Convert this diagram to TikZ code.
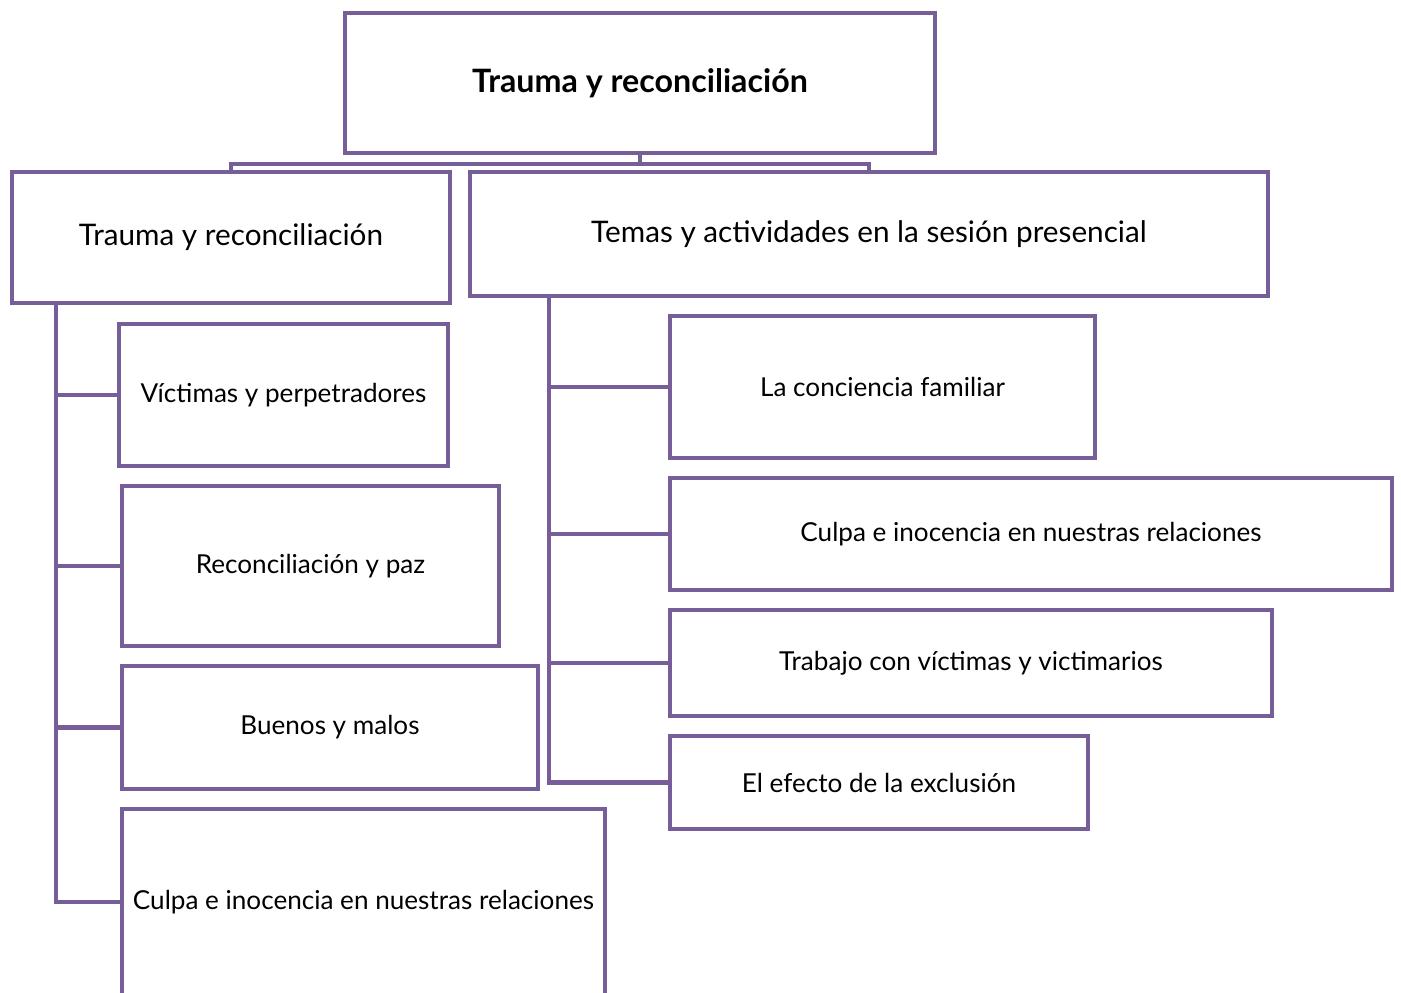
\documentclass[tikz,border=0pt]{standalone}
\usepackage{fontspec}
\setmainfont{Lato}
\usetikzlibrary{calc}
\definecolor{frame}{RGB}{118,94,152}
\tikzset{
  box/.style 2 args={draw=frame, line width=2.2pt, fill=white, inner sep=0pt,
    minimum width=#1*0.5pt, minimum height=#2*0.5pt, align=center, text=black},
  conn/.style={draw=frame, line width=2.2pt},
  big/.style={font=\fontsize{16.1}{19}\selectfont\bfseries},
  mid/.style={font=\fontsize{14.85}{18}\selectfont},
  small/.style={font=\fontsize{13.05}{16}\selectfont}
}
\begin{document}
\begin{tikzpicture}[x=0.5pt,y=-0.5pt]
\useasboundingbox (0,0) rectangle (1401,992);
\node[box={590}{140}, big] (top) at (640,83) {Trauma y reconciliación};
\node[box={438}{131}, mid] (L1) at (231,237.5) {Trauma y reconciliación};
\node[box={798}{124}, mid] (R1) at (869,234) {Temas y actividades en la sesión presencial};
% left children
\node[box={329}{142}, small] (LV) at (283.5,395) {Víctimas y perpetradores};
\node[box={377}{160}, small] (LR) at (310.5,566) {Reconciliación y paz};
\node[box={416}{123}, small] (LB) at (330,727.5) {Buenos y malos};
\node[box={483}{186}, small] (LC) at (363.5,902) {Culpa e inocencia en nuestras relaciones};
% right children
\node[box={425}{142}, small] (RC) at (882.5,387) {La conciencia familiar};
\node[box={722}{112}, small] (RCu) at (1031,534) {Culpa e inocencia en nuestras relaciones};
\node[box={602}{106}, small] (RT) at (971,663) {Trabajo con víctimas y victimarios};
\node[box={418}{93}, small] (RE) at (879,782.5) {El efecto de la exclusión};
% connectors top
\coordinate (bus) at ($(top.south)+(0,9)$);
\draw[conn] (top.south) -- (bus);
\draw[conn] (bus) -| (L1.north);
\draw[conn] (bus) -| (R1.north);
% left spine
\coordinate (sl) at (56,0);
\foreach \n in {LV,LR,LB,LC} \draw[conn] (sl |- L1.south) |- (\n.west);
% right spine
\coordinate (sr) at (549,0);
\foreach \n in {RC,RCu,RT,RE} \draw[conn] (sr |- R1.south) |- (\n.west);
\end{tikzpicture}
\end{document}
